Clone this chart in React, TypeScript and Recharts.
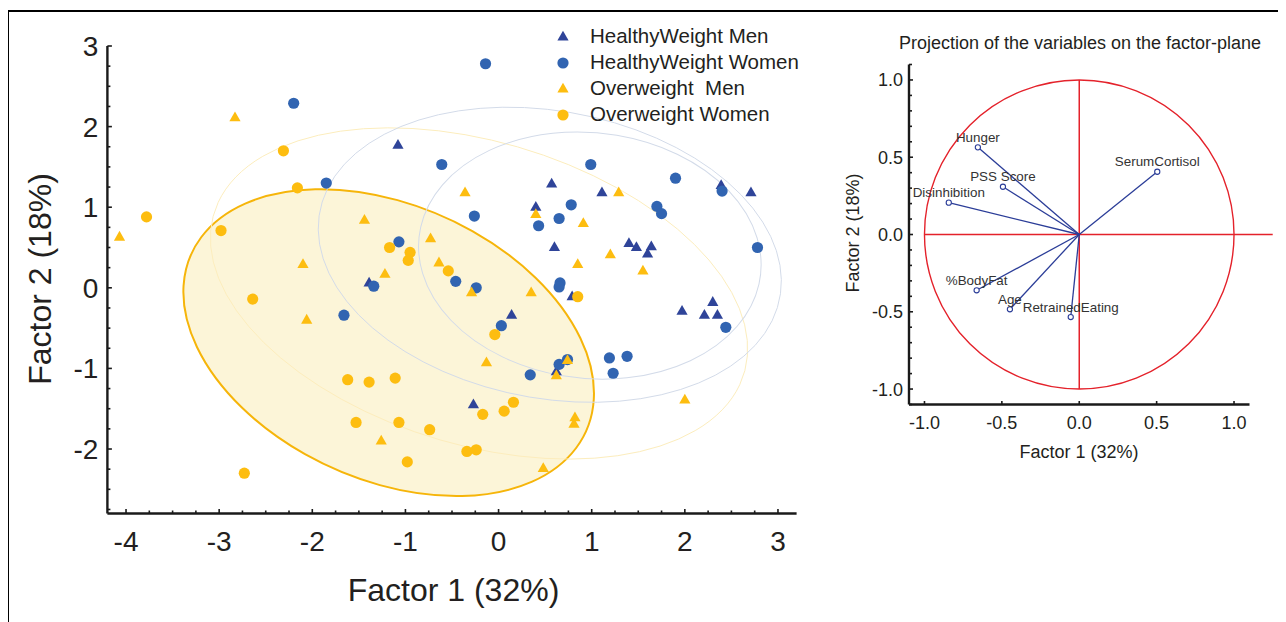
import React from "react"
import { ScatterChart, Scatter, XAxis, YAxis, ReferenceLine, Legend } from "recharts"

const FONT = '"Liberation Sans", Arial, Helvetica, sans-serif'

// factor scores per group, [factor 1, factor 2]
const healthyWeightMen: [number, number][] = [
  [-1.08, 1.77], [0.57, 1.29], [1.11, 1.18], [2.39, 1.27], [2.71, 1.18], [0.4, 1.0],
  [0.6, 0.5], [1.4, 0.55], [1.48, 0.5], [1.64, 0.51], [1.6, 0.42], [-1.39, 0.06],
  [0.79, -0.11], [0.14, -0.34], [1.97, -0.29], [2.3, -0.18], [2.21, -0.34], [2.35, -0.34],
  [-0.27, -1.45], [0.62, -1.04],
]
const healthyWeightWomen: [number, number][] = [
  [-2.2, 2.29], [-0.14, 2.78], [-0.61, 1.53], [0.99, 1.53], [1.9, 1.36], [-1.85, 1.3],
  [2.4, 1.2], [0.78, 1.03], [1.7, 1.01], [1.75, 0.92], [-0.26, 0.89], [0.65, 0.86],
  [0.43, 0.77], [-1.07, 0.57], [2.78, 0.5], [-1.34, 0.02], [-0.46, 0.08], [-0.24, 0.0],
  [0.66, 0.06], [0.65, 0.01], [-1.66, -0.34], [0.03, -0.47], [0.34, -1.08], [0.65, -0.95],
  [0.74, -0.89], [1.19, -0.87], [1.38, -0.85], [1.23, -1.06], [2.44, -0.49],
]
const overweightMen: [number, number][] = [
  [-2.83, 2.11], [-4.07, 0.63], [-0.36, 1.18], [1.29, 1.18], [0.4, 0.91], [0.91, 0.8],
  [-1.44, 0.84], [-0.73, 0.61], [-0.64, 0.31], [-2.1, 0.29], [1.2, 0.41], [0.85, 0.29],
  [1.55, 0.21], [-1.22, 0.17], [-0.29, -0.06], [0.35, -0.06], [-2.06, -0.4], [-0.13, -0.93],
  [0.74, -0.9], [0.62, -1.09], [2.0, -1.39], [0.82, -1.61], [0.81, -1.69], [-1.26, -1.9],
  [0.48, -2.24],
]
const overweightWomen: [number, number][] = [
  [-2.31, 1.7], [-2.16, 1.24], [-3.78, 0.88], [-2.98, 0.71], [-1.17, 0.5], [-0.95, 0.44],
  [-0.97, 0.34], [-0.54, 0.21], [-2.64, -0.14], [0.85, -0.11], [-0.04, -0.58], [-1.62, -1.14],
  [-1.39, -1.17], [-1.11, -1.12], [-1.53, -1.67], [-1.07, -1.67], [-0.74, -1.76], [-0.98, -2.16],
  [-2.73, -2.3], [-0.17, -1.57], [0.06, -1.53], [0.16, -1.42], [-0.34, -2.03], [-0.24, -2.01],
]

// group ellipses: centre, semi-axes (factor units), tilt (deg)
const groupEllipses = [
  { group: "ow-women", x: -1.18, y: -0.68, a: 2.4, b: 1.65, angle: -33 },
  { group: "ow-men", x: -0.21, y: -0.07, a: 3.02, b: 1.85, angle: -22 },
  { group: "hw-women", x: 0.55, y: 0.41, a: 2.53, b: 1.77, angle: -15 },
  { group: "hw-men", x: 0.98, y: 0.4, a: 1.85, b: 1.52, angle: -11 },
]

const scoreXLabels = [-4, -3, -2, -1, 0, 1, 2, 3]
const scoreYLabels = [-2, -1, 0, 1, 2, 3]

// loadings of the variables on the two factors
const variableNames = ["Hunger", "PSS Score", "Disinhibition", "SerumCortisol", "%BodyFat", "Age", "RetrainedEating"]
const loadingsF1 = [-0.655, -0.493, -0.843, 0.504, -0.663, -0.448, -0.055]
const loadingsF2 = [0.564, 0.309, 0.206, 0.406, -0.361, -0.484, -0.534]
const loadingXLabels = [-1, -0.5, 0, 0.5, 1]
const loadingYLabels = [-1, -0.5, 0, 0.5, 1]

const steps = (from: number, to: number, step: number) => {
  const out: number[] = []
  for (let i = 0; from + i * step <= to + 1e-9; i++) out.push(Math.round((from + i * step) * 1000) / 1000)
  return out
}

const toPts = (arr: [number, number][]) => arr.map(([x, y]) => ({ x, y }))

const series = [
  { name: "HealthyWeight Men", data: healthyWeightMen, marker: "triangle", color: "#2f4499" },
  { name: "HealthyWeight Women", data: healthyWeightWomen, marker: "circle", color: "#3164b1" },
  { name: "Overweight  Men", data: overweightMen, marker: "triangle", color: "#fdbd10" },
  { name: "Overweight Women", data: overweightWomen, marker: "circle", color: "#fdbd10" },
]

const ellipseStyle: Record<string, any> = {
  "ow-women": { fill: "#fcf5d8", stroke: "#f6b50a", strokeWidth: 2 },
  "ow-men": { fill: "none", stroke: "#fcedbd", strokeWidth: 1 },
  "hw-women": { fill: "none", stroke: "#d3dbe9", strokeWidth: 1 },
  "hw-men": { fill: "none", stroke: "#d3dbe9", strokeWidth: 1 },
}

// layout of the score plot (svg coords)
const L_W = 810
const L_H = 600
const L_DX: [number, number] = [-4.2, 3.2]
const L_DY: [number, number] = [-2.8, 3]
const L_PLOT = { left: 99.4, top: 38, width: 689.2, height: 467.5 }
const L_KX = L_PLOT.width / (L_DX[1] - L_DX[0])
const L_KY = L_PLOT.height / (L_DY[1] - L_DY[0])

// layout of the loadings plot
const R_W = 438
const R_H = 470
const R_D: [number, number] = [-1.1, 1.1]
const R_PLOT = { left: 69, top: 56.5, width: 340.5, height: 340 }
const R_KX = R_PLOT.width / (R_D[1] - R_D[0])
const R_KY = R_PLOT.height / (R_D[1] - R_D[0])

type TickOpts = {
  side: "left" | "bottom"
  labels: number[]
  fmt: (v: number) => string
  majorLen: number
  minorLen: number
  fontSize: number
  gap: number
}

function makeTick(o: TickOpts) {
  return (props: any) => {
    const { x, y, payload } = props
    const v = payload.value
    const major = o.labels.some((l) => Math.abs(l - v) < 1e-6)
    const len = major ? o.majorLen : o.minorLen
    if (o.side === "left") {
      return (
        <g>
          <line x1={x} y1={y} x2={x + len} y2={y} stroke="#1a1a1a" strokeWidth={1.6} />
          {major && (
            <text x={x - o.gap} y={y} dy="0.36em" textAnchor="end" fontSize={o.fontSize} fill="#231f20" fontFamily={FONT}>
              {o.fmt(v)}
            </text>
          )}
        </g>
      )
    }
    return (
      <g>
        <line x1={x} y1={y} x2={x} y2={y - len} stroke="#1a1a1a" strokeWidth={1.6} />
        {major && (
          <text x={x} y={y + o.gap} textAnchor="middle" fontSize={o.fontSize} fill="#231f20" fontFamily={FONT}>
            {o.fmt(v)}
          </text>
        )}
      </g>
    )
  }
}

function Marker({ kind, cx, cy, color }: { kind: string; cx: number; cy: number; color: string }) {
  if (kind === "triangle") {
    return <polygon points={`${cx},${cy - 6.2} ${cx - 5.6},${cy + 3.6} ${cx + 5.6},${cy + 3.6}`} fill={color} />
  }
  return <circle cx={cx} cy={cy} r={5.6} fill={color} />
}

const ellipseShape = (kx: number, ky: number, styleOf: (p: any) => any) => (p: any) => {
  const s = styleOf(p.payload)
  return (
    <g transform={`translate(${p.cx},${p.cy}) scale(${kx},${-ky}) rotate(${p.payload.angle})`}>
      <ellipse cx={0} cy={0} rx={p.payload.a} ry={p.payload.b} vectorEffect="non-scaling-stroke" {...s} />
    </g>
  )
}

const renderLegend = (props: any) => (
  <div style={{ fontFamily: FONT }}>
    {(props.payload || [])
      .filter((p: any) => series.some((s) => s.name === p.value))
      .map((p: any) => {
        const s = series.find((q) => q.name === p.value)!
        return (
          <div key={p.value} style={{ display: "flex", alignItems: "center", height: 26 }}>
            <svg width={16} height={16} style={{ overflow: "visible" }}>
              <Marker kind={s.marker} cx={8} cy={8} color={s.color} />
            </svg>
            <span style={{ marginLeft: 19, fontSize: 20.5, color: "#231f20", whiteSpace: "pre", lineHeight: 1 }}>{p.value}</span>
          </div>
        )
      })}
  </div>
)

function ScorePlot() {
  const xTicks = steps(-4, 3, 0.25)
  const yTicks = steps(-2.75, 3, 0.25)
  return (
    <ScatterChart
      width={L_W}
      height={L_H}
      margin={{ top: L_PLOT.top, left: L_PLOT.left - 60, right: L_W - L_PLOT.left - L_PLOT.width, bottom: L_H - L_PLOT.top - L_PLOT.height - 40 }}
    >
      <XAxis
        type="number"
        dataKey="x"
        domain={L_DX}
        allowDataOverflow
        ticks={xTicks}
        interval={0}
        height={40}
        tickSize={0}
        tickMargin={0}
        axisLine={{ stroke: "#1a1a1a", strokeWidth: 2.4 }}
        tick={makeTick({ side: "bottom", labels: scoreXLabels, fmt: (v) => String(v), majorLen: 4.5, minorLen: 3, fontSize: 28, gap: 37 })}
      />
      <YAxis
        type="number"
        dataKey="y"
        domain={L_DY}
        allowDataOverflow
        ticks={yTicks}
        interval={0}
        width={60}
        tickSize={0}
        tickMargin={0}
        axisLine={{ stroke: "#1a1a1a", strokeWidth: 2.4 }}
        tick={makeTick({ side: "left", labels: scoreYLabels, fmt: (v) => String(v), majorLen: 4.5, minorLen: 3, fontSize: 28, gap: 9 })}
      />
      <Scatter
        data={groupEllipses}
        legendType="none"
        isAnimationActive={false}
        shape={ellipseShape(L_KX, L_KY, (d) => ellipseStyle[d.group])}
      />
      {series.map((s) => (
        <Scatter
          key={s.name}
          name={s.name}
          data={toPts(s.data)}
          fill={s.color}
          legendType={s.marker === "triangle" ? "triangle" : "circle"}
          isAnimationActive={false}
          shape={(p: any) => <Marker kind={s.marker} cx={p.cx} cy={p.cy} color={s.color} />}
        />
      ))}
      <Legend
        layout="vertical"
        align="center"
        verticalAlign="middle"
        wrapperStyle={{ left: 547, top: 15.5, width: 260, height: 110 }}
        content={renderLegend}
      />
    </ScatterChart>
  )
}

function LoadingPlot() {
  const yTicks = steps(-1.1, 1.1, 0.1)
  const points = variableNames.map((name, i) => ({ name, x: loadingsF1[i], y: loadingsF2[i] }))
  const red = "#e4222b"
  const blue = "#2b3d98"
  return (
    <ScatterChart
      width={R_W}
      height={R_H}
      margin={{ top: R_PLOT.top, left: R_PLOT.left - 40, right: R_W - R_PLOT.left - R_PLOT.width, bottom: R_H - R_PLOT.top - R_PLOT.height - 30 }}
    >
      <XAxis
        type="number"
        dataKey="x"
        domain={R_D}
        allowDataOverflow
        ticks={loadingXLabels}
        interval={0}
        height={30}
        tickSize={0}
        tickMargin={0}
        axisLine={{ stroke: "#1a1a1a", strokeWidth: 2.4 }}
        tick={makeTick({ side: "bottom", labels: loadingXLabels, fmt: (v) => v.toFixed(1), majorLen: 3.5, minorLen: 2.5, fontSize: 18, gap: 24 })}
      />
      <YAxis
        type="number"
        dataKey="y"
        domain={R_D}
        allowDataOverflow
        ticks={yTicks}
        interval={0}
        width={40}
        tickSize={0}
        tickMargin={0}
        axisLine={{ stroke: "#1a1a1a", strokeWidth: 2.4 }}
        tick={makeTick({ side: "left", labels: loadingYLabels, fmt: (v) => v.toFixed(1), majorLen: 4, minorLen: 3, fontSize: 18, gap: 6 })}
      />
      <Scatter
        data={[{ x: 0, y: 0, a: 1, b: 1, angle: 0 }]}
        legendType="none"
        isAnimationActive={false}
        shape={ellipseShape(R_KX, R_KY, () => ({ fill: "none", stroke: red, strokeWidth: 1.4 }))}
      />
      <ReferenceLine segment={[{ x: -1, y: 0 }, { x: 1.25, y: 0 }]} stroke={red} strokeWidth={1.5} ifOverflow="visible" />
      <ReferenceLine segment={[{ x: 0, y: -1 }, { x: 0, y: 1 }]} stroke={red} strokeWidth={1.5} ifOverflow="visible" />
      {points.map((p) => (
        <ReferenceLine key={p.name} segment={[{ x: 0, y: 0 }, { x: p.x, y: p.y }]} stroke={blue} strokeWidth={1.3} ifOverflow="visible" />
      ))}
      <Scatter
        data={points}
        isAnimationActive={false}
        shape={(p: any) => (
          <g>
            <circle cx={p.cx} cy={p.cy} r={2.6} fill="#fff" stroke={blue} strokeWidth={1.1} />
            <text x={p.cx} y={p.cy - 5.3} textAnchor="middle" fontSize={13.4} fill="#333" fontFamily={FONT}>
              {p.payload.name}
            </text>
          </g>
        )}
      />
    </ScatterChart>
  )
}

const centered = (left: number, top: number, size: number, rotate = 0): React.CSSProperties => ({
  position: "absolute",
  left,
  top,
  transform: `translate(-50%, -50%)${rotate ? ` rotate(${rotate}deg)` : ""}`,
  fontSize: size,
  lineHeight: 1,
  whiteSpace: "nowrap",
  color: "#231f20",
})

export default function App() {
  return (
    <div style={{ position: "relative", width: 1270, height: 614, fontFamily: FONT }}>
      <style>{`html, body { overflow: hidden; }`}</style>
      <div style={{ position: "absolute", left: -1, top: 1.5, width: 1279, height: 612.5, borderTop: "2px solid #000", borderLeft: "2px solid #000", boxSizing: "border-box" }} />
      <div style={{ position: "absolute", left: 0, top: 0 }}>
        <ScorePlot />
      </div>
      <div style={centered(445.5, 582, 32)}>Factor 1 (32%)</div>
      <div style={centered(32, 271, 32, -90)}>Factor 2 (18%)</div>
      <div style={{ position: "absolute", left: 832, top: 0 }}>
        <LoadingPlot />
      </div>
      <div style={centered(1072, 35, 18)}>Projection of the variables on the factor-plane</div>
      <div style={centered(1071, 444, 18)}>Factor 1 (32%)</div>
      <div style={centered(845, 225, 18, -90)}>Factor 2 (18%)</div>
    </div>
  )
}
